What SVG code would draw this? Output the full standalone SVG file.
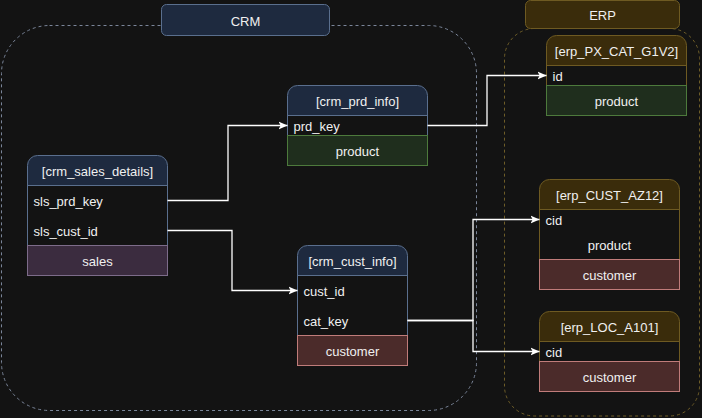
<svg xmlns="http://www.w3.org/2000/svg" width="702" height="418" viewBox="0 0 702 418">
<defs>
<marker id="arr" markerUnits="userSpaceOnUse" markerWidth="10" markerHeight="9" refX="9" refY="4.5" orient="auto">
<path d="M0,0.5 L9,4.5 L0,8.5 L2.2,4.5 Z" fill="#ffffff"/>
</marker>
</defs>
<style>
text{font-family:"Liberation Sans",Arial,sans-serif;font-size:13px;fill:#f0f0f0}
.c{text-anchor:middle}
.crmh{fill:#1e2a3f;stroke:#5a6f8e;stroke-width:1}
.crmr{fill:#131313;stroke:#5a6f8e;stroke-width:1}
.erph{fill:#3a2c0b;stroke:#6e5a22;stroke-width:1}
.erpr{fill:#131313;stroke:#6e5a22;stroke-width:1}
.prod{fill:#1f2e1d;stroke:#4d7a3c;stroke-width:1}
.cust{fill:#4b2b2a;stroke:#c07c7a;stroke-width:1}
.sales{fill:#3b2c3f;stroke:#7d6c8a;stroke-width:1}
.conn path{fill:none;stroke:#ffffff;stroke-width:1.3;marker-end:url(#arr)}
</style>
<rect width="702" height="418" fill="#131313"/>

<g id="crm-group">
<rect x="1.5" y="25.5" width="475" height="385" rx="48" fill="none" stroke="#7a8599" stroke-dasharray="3 3"/>
<rect x="161.5" y="4.5" width="168" height="31" rx="5" fill="#1e2a3f" stroke="#5a6f8e"/>
<text class="c" x="245.5" y="25.5">CRM</text>
</g>

<g id="erp-group">
<rect x="504.5" y="28.5" width="195" height="387.5" rx="30" fill="none" stroke="#6e5d28" stroke-dasharray="3 3"/>
<rect x="525.5" y="0.5" width="154" height="28" rx="5" fill="#3a2c0b" stroke="#6e5a22"/>
<text class="c" x="602.5" y="19.5">ERP</text>
</g>

<g id="crm_sales_details">
<path class="crmh" d="M27.5,185.5 V165.5 A10,10 0 0 1 37.5,155.5 H157.5 A10,10 0 0 1 167.5,165.5 V185.5 Z"/>
<rect class="crmr" x="27.5" y="185.5" width="140" height="60"/>
<rect class="sales" x="27.5" y="245.5" width="140" height="30"/>
<text class="c" x="97.5" y="176">[crm_sales_details]</text>
<text x="33.5" y="206">sls_prd_key</text>
<text x="33.5" y="236">sls_cust_id</text>
<text class="c" x="97.5" y="266">sales</text>
</g>

<g id="crm_prd_info">
<path class="crmh" d="M287.5,115.5 V95.5 A10,10 0 0 1 297.5,85.5 H417.5 A10,10 0 0 1 427.5,95.5 V115.5 Z"/>
<rect class="crmr" x="287.5" y="115.5" width="140" height="20"/>
<rect class="prod" x="287.5" y="135.5" width="140" height="30"/>
<text class="c" x="357.5" y="106">[crm_prd_info]</text>
<text x="293.5" y="131">prd_key</text>
<text class="c" x="357.5" y="156">product</text>
</g>

<g id="crm_cust_info">
<path class="crmh" d="M297.5,275.5 V255.5 A10,10 0 0 1 307.5,245.5 H397.5 A10,10 0 0 1 407.5,255.5 V275.5 Z"/>
<rect class="crmr" x="297.5" y="275.5" width="110" height="60"/>
<rect class="cust" x="297.5" y="335.5" width="110" height="30"/>
<text class="c" x="352.5" y="266">[crm_cust_info]</text>
<text x="303.5" y="296">cust_id</text>
<text x="303.5" y="326">cat_key</text>
<text class="c" x="352.5" y="356">customer</text>
</g>

<g id="erp_PX_CAT_G1V2">
<path class="erph" d="M546.5,65.5 V45.5 A10,10 0 0 1 556.5,35.5 H676.5 A10,10 0 0 1 686.5,45.5 V65.5 Z"/>
<rect class="erpr" x="546.5" y="65.5" width="140" height="20"/>
<rect class="prod" x="546.5" y="85.5" width="140" height="30"/>
<text class="c" x="616.5" y="56">[erp_PX_CAT_G1V2]</text>
<text x="552.5" y="81">id</text>
<text class="c" x="616.5" y="106">product</text>
</g>

<g id="erp_CUST_AZ12">
<path class="erph" d="M539.5,209.5 V189.5 A10,10 0 0 1 549.5,179.5 H669.5 A10,10 0 0 1 679.5,189.5 V209.5 Z"/>
<rect class="erpr" x="539.5" y="209.5" width="140" height="50"/>
<rect class="cust" x="539.5" y="259.5" width="140" height="30"/>
<text class="c" x="609.5" y="200">[erp_CUST_AZ12]</text>
<text x="545.5" y="225">cid</text>
<text class="c" x="609.5" y="250">product</text>
<text class="c" x="609.5" y="280">customer</text>
</g>

<g id="erp_LOC_A101">
<path class="erph" d="M539.5,341.5 V321.5 A10,10 0 0 1 549.5,311.5 H669.5 A10,10 0 0 1 679.5,321.5 V341.5 Z"/>
<rect class="erpr" x="539.5" y="341.5" width="140" height="20"/>
<rect class="cust" x="539.5" y="361.5" width="140" height="30"/>
<text class="c" x="609.5" y="332">[erp_LOC_A101]</text>
<text x="545.5" y="357">cid</text>
<text class="c" x="609.5" y="382">customer</text>
</g>

<g id="connectors" class="conn">
<path d="M167.5,200.5 H228 V125.5 H287.5"/>
<path d="M167.5,230.5 H232 V290.5 H297.5"/>
<path d="M427.5,125.5 H487 V75.5 H546.5"/>
<path d="M407.5,320.5 H473 V219.5 H539.5"/>
<path d="M407.5,320.5 H473 V351.5 H539.5"/>
</g>
</svg>
